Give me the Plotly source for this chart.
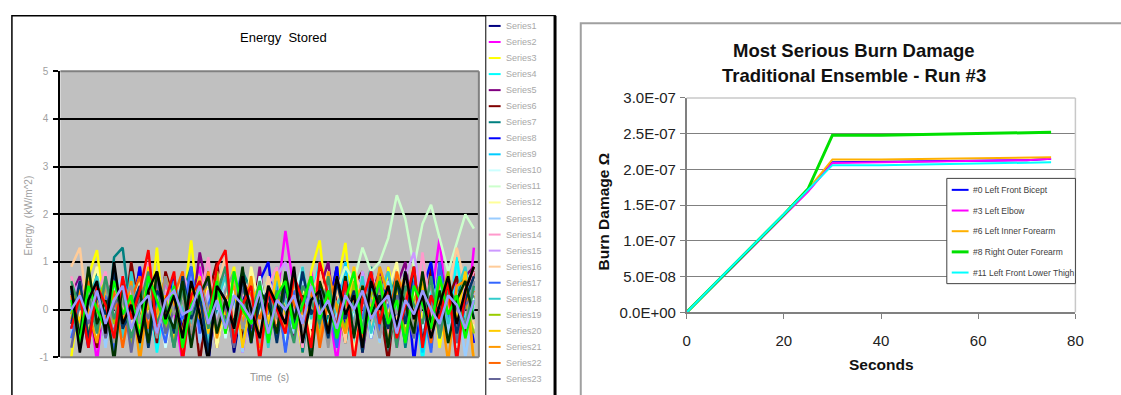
import plotly.graph_objects as go

W, H = 1121, 395
FONT = "Liberation Sans, Arial, sans-serif"

# ---------------- Energy Stored (left chart) ----------------
energy_time = list(range(48))

energy_01 = [0.4, -0.3, 0.6, -0.5, 0.2, -0.8, 0.5, 0.1, -0.6, 0.7, -0.2, 0.3,
             -0.7, 0.4, 0.0, -0.4, 0.8, -0.1, 0.5, -0.9, 0.2, 0.6, -0.3, 0.1,
             -0.5, 0.7, -0.2, 0.4, -0.8, 0.3, 0.0, 0.9, -0.4, 0.2, -0.6, 0.5,
             -0.1, 0.7, -0.7, 0.3, -0.3, 0.6, 0.0, -0.5, 0.4, -0.9, 0.2, 0.5]
energy_02 = [-0.2, -0.6, 0.3, -1.1, 0.5, 0.1, -0.4, 0.8, -0.7, 0.2, -0.3, 0.6,
             0.0, -1.1, 0.4, 0.9, -0.5, 0.1, -0.2, 0.7, -0.9, 0.3, 0.5, -0.4,
             0.2, 1.65, 0.4, -0.6, 0.8, -0.3, 0.1, -1.1, 0.5, 0.0, -0.5, 0.6,
             -0.2, 0.9, -0.8, 0.3, -0.4, 0.7, 0.2, 1.5, -0.3, 0.6, -0.6, 1.3]
energy_03 = [-1.0, 0.3, 0.7, 1.25, -0.2, 0.5, -0.6, 0.8, 0.1, -0.4, 1.3, -0.7,
             0.4, 0.0, 1.45, -0.3, 0.6, -0.8, 0.2, 0.9, -0.5, 0.3, -0.1, 0.7,
             -0.6, 0.4, 0.1, -0.9, 0.8, 1.45, -0.2, 0.5, 1.4, -0.4, 0.2, 0.7,
             -0.7, 0.9, 0.0, -0.5, 1.0, -0.3, 0.6, -0.8, 0.4, 0.1, -0.6, 0.3]
energy_04 = [0.1, -0.5, 0.6, -0.1, 0.4, -0.7, 0.2, 0.8, -0.3, 0.5, -0.9, 0.3,
             0.7, -0.4, 0.1, -0.6, 0.5, 0.9, -0.2, 0.3, -0.8, 0.6, 0.0, -0.5,
             0.4, -0.1, 0.8, -0.6, 0.2, 1.0, -0.3, 0.5, -0.7, 0.1, 0.6, -0.4,
             0.9, -0.9, 0.3, -0.2, 0.7, -1.1, 0.4, 0.2, -0.6, 1.1, -0.3, 0.5]
energy_05 = [0.3, 0.7, -0.4, 0.2, -0.7, 0.5, 0.0, -0.3, 0.9, -0.6, 0.4, 0.1,
             -0.5, 0.8, -0.2, 1.2, 0.3, -0.8, 0.5, -0.1, 0.6, -0.4, 0.9, -0.7,
             0.2, 0.0, -0.6, 0.7, -0.3, 0.4, 1.0, -0.5, 0.1, 0.6, -0.9, 0.3,
             0.8, -0.2, 0.5, 1.0, -0.4, 0.2, -0.8, 1.0, 0.0, -0.5, 0.7, 0.9]
energy_06 = [0.5, -0.2, 0.1, -0.8, 0.6, 0.3, -0.5, 1.0, -0.1, 0.4, -0.7, 0.8,
             0.2, -0.4, 0.6, -1.1, 0.3, 1.0, -0.3, 0.5, -0.6, 0.1, 0.7, -0.2,
             0.4, -0.8, 0.2, 0.6, -0.5, 0.9, -0.1, 0.3, -0.7, 0.5, 0.8, -0.4,
             0.1, -1.1, 0.6, -0.2, 0.4, -0.7, 0.9, -0.3, 0.2, 0.7, -0.5, 0.8]
energy_07 = [0.2, 0.5, -0.3, 0.8, -0.6, 1.1, 1.3, -0.2, 0.4, -0.5, 0.7, 0.1,
             -0.8, 0.3, 0.9, -0.4, 0.6, -0.1, 0.2, -0.7, 0.8, 0.4, -0.3, 0.6,
             -0.5, 0.1, 0.7, -0.9, 0.3, 0.5, -0.2, 0.8, -0.6, 0.4, 0.0, 0.9,
             -0.4, 0.2, 0.7, -0.8, 0.5, 0.1, -0.3, 0.6, -0.7, 0.3, 0.8, 0.2]
energy_08 = [-0.4, 0.3, -0.8, 0.6, 0.0, -0.5, 0.4, -0.2, 0.9, -0.7, 0.2, -0.3,
             0.7, -0.6, 0.5, 0.1, -1.1, 0.4, 0.8, -0.3, 0.2, -0.7, 0.6, 1.0,
             -0.4, 0.3, -0.2, 0.8, -0.8, 0.5, -0.1, 0.9, -0.5, 0.3, 0.7, -0.6,
             0.2, 0.5, -0.3, 0.8, -1.1, 0.4, 1.0, -0.4, 0.6, -0.2, 0.3, -0.7]
energy_09 = [0.0, -0.7, 0.4, 0.1, -0.3, 0.7, -0.5, 0.3, -0.9, 0.6, 0.2, -0.4,
             0.5, -0.1, 0.8, -0.6, 0.3, -0.2, 0.6, 0.0, -0.8, 0.5, 0.2, -0.5,
             0.9, -0.3, 0.4, -0.7, 0.1, -0.1, 0.7, -0.4, 1.0, -0.8, 0.3, 0.5,
             -0.2, 0.6, -0.6, 0.1, 0.8, -0.9, 0.2, -0.3, 0.5, -1.1, 0.7, 0.4]
energy_10 = [0.3, -0.2, 0.5, -0.6, 0.2, 0.6, -0.4, 0.1, 0.7, -0.3, 0.4, -0.8,
             0.2, 0.6, -0.5, 0.3, -0.1, 0.8, -0.6, 0.4, 0.1, -0.3, 0.7, -0.2,
             0.5, -0.7, 0.3, 0.9, -0.4, 0.2, 0.6, -0.5, 0.3, -0.2, 0.8, -0.6,
             0.4, 0.1, -0.7, 0.5, 0.2, -0.4, 0.6, -0.1, 0.3, -0.8, 0.5, 0.2]
energy_11 = [-0.3, 0.4, 0.1, -0.6, 0.5, -0.2, 0.3, -0.5, 0.6, 0.0, -0.4, 0.7,
             -0.1, 0.3, -0.7, 0.5, 0.2, -0.3, 0.6, -0.5, 0.1, 0.4, -0.2, 0.7,
             0.0, -0.6, 0.5, 0.2, -0.3, 0.8, -0.1, 0.4, 0.9, 0.6, 1.3, 0.8,
             1.0, 1.5, 2.4, 1.9, 0.9, 1.8, 2.2, 1.5, 0.8, 1.4, 2.0, 1.7]
energy_12 = [0.6, -0.1, 0.3, 0.9, -0.4, 0.2, -0.7, 0.5, 0.0, 0.7, -0.3, 0.4,
             -0.6, 0.8, 0.1, -0.2, 0.5, -0.8, 0.3, 0.6, -0.4, 0.9, 0.0, -0.5,
             0.3, 0.7, -0.2, 0.4, -0.6, 0.1, 0.8, -0.3, 0.5, -0.9, 0.2, 0.6,
             -0.1, 0.4, 1.0, -0.5, 0.3, 0.7, -0.2, 0.5, -0.7, 0.1, 0.6, -0.4]
energy_13 = [-0.5, 0.2, -0.1, 0.5, -0.8, 0.4, 0.7, -0.3, 0.1, -0.6, 0.6, 0.2,
             -0.4, 0.0, 0.8, -0.7, 0.3, -0.2, 0.5, 0.1, -0.9, 0.4, -0.3, 0.7,
             -0.1, 0.2, -0.5, 0.6, 0.3, -0.8, 0.5, -0.2, 0.7, 0.0, -0.4, 0.3,
             -0.7, 0.6, 0.1, -0.3, 0.9, -0.6, 0.2, 0.5, -0.5, 0.4, -1.0, 0.1]
energy_14 = [0.7, 0.1, -0.4, 0.3, 0.8, -0.2, 0.5, -0.6, 0.2, 1.0, -0.3, 0.4,
             -0.1, 0.6, -0.7, 0.2, 1.1, -0.4, 0.3, -0.2, 0.7, 0.0, -0.6, 0.5,
             0.9, -0.3, 0.2, -0.8, 0.6, 0.1, -0.4, 0.7, -0.1, 0.4, -0.7, 0.8,
             0.2, -0.5, 0.6, 0.0, -0.3, 1.2, -0.2, 0.5, 0.1, -0.6, 0.3, 0.8]
energy_15 = [0.2, 0.6, -0.2, 0.4, 0.0, 0.7, -0.3, 0.5, 0.1, -0.4, 0.6, 0.3,
             -0.1, 0.8, 0.2, -0.5, 0.4, 0.0, 0.9, -0.2, 0.3, 0.6, -0.4, 0.2,
             0.7, 1.0, -0.1, 0.5, 0.2, -0.3, 0.6, 0.0, 0.4, -0.6, 0.8, 0.1,
             0.5, -0.2, 0.3, 0.7, 1.2, 0.1, -0.3, 0.6, 0.2, -0.1, 0.5, 0.3]
energy_16 = [0.9, 1.3, -0.2, 0.4, -0.6, 0.7, 0.1, -0.4, 0.5, -0.1, 0.8, -0.7,
             0.3, 0.6, -0.3, 0.2, -0.8, 0.5, 1.1, -0.2, 0.4, 0.0, -0.5, 0.7,
             -0.3, 0.1, 0.6, -0.6, 0.3, 0.8, -0.1, 0.4, -0.7, 0.9, 0.2, -0.4,
             0.5, 0.0, -0.2, 0.6, -0.5, 0.3, 0.1, -0.6, 0.4, 1.3, 0.5, -0.3]
energy_17 = [-0.6, 0.1, 0.5, -0.3, 0.3, -0.9, 0.6, 0.2, -0.4, 0.7, 0.0, -0.7,
             0.4, -0.2, 0.9, -0.5, 0.1, 0.6, -0.3, 0.2, 0.8, -0.6, 0.3, -0.1,
             0.5, -0.9, 0.4, 0.0, 0.7, -0.4, 0.2, -0.8, 0.6, 0.3, -0.2, 0.8,
             -0.5, 0.1, 0.4, -0.7, 0.6, 0.2, -0.9, 1.0, -0.2, 0.3, -0.4, 0.6]
energy_18 = [0.4, -0.4, 0.2, 0.7, -0.1, 0.3, -0.6, 0.8, -0.2, 0.1, 0.5, -0.5,
             0.6, 0.0, -0.3, 0.4, -0.7, 0.2, 0.7, -0.4, 0.5, -0.1, 0.3, -0.8,
             0.6, 0.2, -0.4, 0.9, -0.2, 0.4, -0.6, 0.1, 0.5, -0.3, 0.7, -0.5,
             0.3, 0.8, -0.1, 0.2, -0.6, 0.5, 0.0, 0.7, -0.3, 0.4, 0.9, -0.2]
energy_19 = [-0.1, 0.5, -0.5, 0.2, 0.6, -0.3, 0.4, -0.8, 0.3, 0.0, 0.7, -0.4,
             0.2, -0.6, 0.5, 0.1, -0.2, 0.8, -0.5, 0.3, -0.1, 0.6, -0.7, 0.4,
             0.0, 0.5, -0.3, 0.2, 0.7, -0.6, 0.4, 0.1, -0.4, 0.6, -0.8, 0.3,
             0.7, -0.2, 0.5, -0.5, 0.2, 0.6, -0.3, 0.1, 0.8, -0.7, 0.2, -0.5]
energy_20 = [0.5, -0.3, 0.8, -0.1, 0.2, -0.6, 0.6, 0.0, -0.4, 0.9, -0.2, 0.3,
             -0.7, 0.4, 0.1, 0.7, -0.5, 0.3, -0.1, 0.6, -0.8, 0.2, 0.5, -0.3,
             0.8, -0.1, 0.3, -0.6, 0.5, 0.0, -0.4, 0.6, -0.2, 0.9, -0.5, 0.2,
             0.4, -0.7, 0.3, 0.7, -0.3, 0.5, 0.1, -0.5, 0.6, -0.2, 0.8, -1.1]
energy_21 = [-0.2, 0.4, 0.0, -0.7, 0.5, 0.2, -0.3, 0.6, -1.1, 0.3, -0.1, 0.7,
             0.1, -0.5, 0.4, -0.2, 0.8, -0.6, 0.2, 0.5, -0.3, 0.7, -0.8, 0.1,
             0.4, -0.4, 0.6, -0.1, 0.3, -0.7, 0.8, 0.0, -0.5, 0.2, 0.5, -0.2,
             0.9, 0.3, -0.6, 0.4, -0.1, 0.7, -0.4, 0.2, -1.1, 0.5, 0.6, -1.1]
energy_22 = [0.3, -0.5, 0.6, 0.1, -0.2, 0.4, -0.8, 0.2, 0.7, -0.4, 0.5, -0.1,
             0.3, 0.8, -0.6, 0.2, -0.3, 0.5, 0.0, -0.7, 0.6, 0.3, -0.2, 0.4,
             -0.5, 0.7, 0.1, -0.3, 0.5, -0.8, 0.2, 0.6, -0.1, 0.4, -0.6, 0.7,
             0.0, -0.4, 0.8, 0.1, -0.2, 0.3, -0.7, 0.6, 0.2, -0.5, 0.1, 0.4]
energy_23 = [-0.8, 0.2, -0.3, 0.5, -0.6, 0.1, 0.4, -0.9, 0.3, -0.2, 0.6, -0.5,
             0.0, 0.4, -0.7, 0.3, 0.6, -0.4, 0.1, -0.8, 0.5, -0.1, 0.3, -0.6,
             0.2, 0.6, -0.4, 0.1, -0.9, 0.4, 0.0, -0.3, 0.7, -0.5, 0.2, -0.1,
             0.5, -0.8, 0.3, 0.0, -0.6, 0.4, 0.2, -0.4, 0.6, -0.7, 0.1, 0.3]
energy_24 = [0.1, -0.4, 0.4, -0.2, 0.6, -0.7, 0.2, 0.5, -0.3, 0.3, -0.6, 0.7,
             -0.1, 0.2, -0.5, 0.6, 0.0, -0.3, 0.4, 0.8, -0.4, 0.2, -0.7, 0.5,
             -0.2, 0.3, 0.7, -0.5, 0.1, 0.4, -0.8, 0.6, 0.0, -0.3, 0.5, 0.2,
             -0.6, 0.4, -0.1, 0.7, -0.4, 0.1, 0.5, -0.6, 0.3, 0.0, -0.3, 0.6]
energy_25 = [-0.3, 0.6, -0.6, 0.3, -0.1, 0.8, -0.4, 0.0, 0.5, -0.8, 0.4, 0.1,
             -0.5, 0.7, -0.2, 0.3, -0.9, 0.5, 0.2, -0.4, 0.7, -0.6, 0.1, 0.4,
             -0.7, 0.5, -0.3, 0.8, -0.1, 0.2, -0.6, 0.6, -0.2, 0.4, -0.9, 0.7,
             0.1, -0.4, 0.6, -0.3, 0.9, -0.7, 0.3, -0.1, 0.5, -0.5, 0.2, 0.7]
energy_26 = [0.6, 0.0, 0.3, -0.5, 0.7, -0.2, 0.4, -0.6, 0.1, 0.8, -0.3, 0.2,
             -0.8, 0.5, -0.1, 0.6, -0.4, 0.3, 0.9, -0.6, 0.2, -0.2, 0.6, -0.5,
             0.4, 0.0, -0.7, 0.5, 0.2, -0.3, 0.7, -0.6, 0.3, 0.1, -0.4, 0.6,
             -0.2, 0.4, -0.8, 0.5, 0.1, -0.3, 0.7, -0.6, 0.4, 0.2, -0.4, 0.5]
energy_27 = [0.5, -0.6, 0.9, -0.3, 0.2, -1.1, 0.6, -0.2, 0.4, -0.7, 0.8, 0.0,
             -0.4, 0.6, -0.8, 0.3, 0.7, -0.5, 0.2, -0.3, 0.9, -0.7, 0.4, 0.1,
             -0.5, 0.8, -0.2, 0.3, -1.1, 0.6, 0.0, -0.4, 0.7, -0.6, 0.5, -0.1,
             0.3, -0.8, 0.6, 0.1, -0.5, 0.8, -0.3, 0.4, -0.7, 0.2, 0.6, -0.2]
energy_28 = [-0.4, 0.3, -0.8, 0.5, 0.1, -0.6, 0.7, -0.2, 0.4, 1.25, -0.5, 0.2,
             0.8, -1.1, 0.3, 0.6, -0.3, 0.9, 1.25, -0.7, 0.1, 0.5, -1.1, 0.4,
             0.0, -0.5, 0.7, 0.2, -0.8, 1.0, 0.3, -0.4, 0.6, -1.1, 0.2, 0.8,
             -0.3, 0.5, -0.6, 0.1, 0.9, -0.8, 0.3, -0.2, 0.6, -1.1, 0.4, 0.9]
energy_29 = [0.2, -0.7, 0.5, 0.0, -0.4, 0.6, -0.1, 0.3, -0.6, 0.7, 0.2, -0.3,
             0.5, -0.8, 0.1, 0.4, -0.2, 0.6, -0.5, 0.8, 0.0, -0.3, 0.5, -0.7,
             0.3, 0.6, -0.4, 0.1, 0.7, -0.2, 0.4, -0.6, 0.2, 0.8, -0.5, 0.0,
             0.6, -0.3, 0.2, -0.7, 0.5, 0.1, -0.4, 0.7, -0.1, 0.3, -0.6, 0.2]
energy_30 = [0.5, -0.9, 0.2, 0.6, -0.5, 1.0, -0.3, 0.1, -0.7, 0.4, 0.8, -0.2,
             0.3, -0.6, 0.6, -0.1, -1.1, 0.5, 0.2, -0.4, 0.7, 0.0, -0.6, 0.5,
             0.1, -0.3, 0.9, -0.7, 0.2, 0.4, -0.5, 0.7, -0.1, 0.3, -0.8, 0.6,
             0.0, 0.5, -0.4, 0.8, -0.2, 0.3, -0.6, 0.1, 0.7, -0.3, 0.4, 0.9]
energy_31 = [0.0, 0.3, -0.2, 0.4, -0.3, 0.2, 0.5, -0.4, 0.1, 0.3, -0.5, 0.2,
             0.4, -0.1, 0.0, 0.5, -0.3, 0.2, -0.4, 0.3, 0.1, -0.2, 0.4, -0.5,
             0.2, 0.0, 0.3, -0.3, 0.5, -0.1, 0.2, -0.4, 0.3, 0.0, 0.4, -0.2,
             0.1, 0.3, -0.5, 0.2, -0.1, 0.4, 0.0, -0.3, 0.3, 0.1, -0.4, 0.2]

energy_series = [energy_01, energy_02, energy_03, energy_04, energy_05, energy_06,
                 energy_07, energy_08, energy_09, energy_10, energy_11, energy_12,
                 energy_13, energy_14, energy_15, energy_16, energy_17, energy_18,
                 energy_19, energy_20, energy_21, energy_22, energy_23, energy_24,
                 energy_25, energy_26, energy_27, energy_28, energy_29, energy_30,
                 energy_31]
energy_colors = ["#000080", "#FF00FF", "#FFFF00", "#00FFFF", "#800080", "#800000",
                 "#008080", "#0000FF", "#00CCFF", "#CCFFFF", "#CCFFCC", "#FFFF99",
                 "#99CCFF", "#FF99CC", "#CC99FF", "#FFCC99", "#3366FF", "#33CCCC",
                 "#99CC00", "#FFCC00", "#FF9900", "#FF6600", "#666699", "#969696",
                 "#003366", "#339966", "#003300", "#FF0000", "#00FF00", "#000000",
                 "#9999FF"]
energy_names = ["Series%d" % (i + 1) for i in range(len(energy_series))]
energy_legend_count = 23
energy_ticks = [-1, 0, 1, 2, 3, 4, 5]

# ---------------- Burn damage (right chart) ----------------
burn_time = [0, 5, 10, 15, 20, 25, 30, 40, 50, 60, 70, 75]
burn_bicept = [0, 0.34e-7, 0.68e-7, 1.02e-7, 1.36e-7, 1.70e-7, 2.10e-7, 2.11e-7, 2.12e-7, 2.12e-7, 2.13e-7, 2.15e-7]
burn_elbow = [0, 0.33e-7, 0.67e-7, 1.01e-7, 1.35e-7, 1.69e-7, 2.09e-7, 2.10e-7, 2.11e-7, 2.12e-7, 2.13e-7, 2.15e-7]
burn_inner_forearm = [0, 0.34e-7, 0.68e-7, 1.02e-7, 1.36e-7, 1.72e-7, 2.14e-7, 2.14e-7, 2.15e-7, 2.16e-7, 2.17e-7, 2.17e-7]
burn_outer_forearm = [0, 0.34e-7, 0.68e-7, 1.02e-7, 1.37e-7, 1.73e-7, 2.48e-7, 2.48e-7, 2.49e-7, 2.50e-7, 2.51e-7, 2.52e-7]
burn_lower_thigh = [0, 0.35e-7, 0.69e-7, 1.03e-7, 1.37e-7, 1.71e-7, 2.06e-7, 2.06e-7, 2.07e-7, 2.08e-7, 2.09e-7, 2.10e-7]

burn_series = [burn_bicept, burn_elbow, burn_inner_forearm, burn_outer_forearm, burn_lower_thigh]
burn_names = ["#0 Left Front Bicept", "#3 Left Elbow", "#6 Left Inner Forearm",
              "#8 Right Outer Forearm", "#11 Left Front Lower Thigh"]
burn_colors = ["#0000FF", "#FF00FF", "#FFB000", "#00E000", "#00FFFF"]
burn_widths = [2, 2, 2, 3, 2]
burn_yticks = [0, 0.5e-7, 1.0e-7, 1.5e-7, 2.0e-7, 2.5e-7, 3.0e-7]
burn_xticks = [0, 20, 40, 60, 80]


def px(x):
    return x / W


def py(y):
    return 1 - y / H


fig = go.Figure()

for vals, color, name in zip(energy_series, energy_colors, energy_names):
    fig.add_trace(go.Scatter(x=energy_time, y=vals, mode="lines", name=name,
                             line=dict(color=color, width=2.5),
                             xaxis="x", yaxis="y", showlegend=False))

for vals, color, name, w in zip(burn_series, burn_colors, burn_names, burn_widths):
    fig.add_trace(go.Scatter(x=burn_time, y=vals, mode="lines", name=name,
                             line=dict(color=color, width=w),
                             xaxis="x2", yaxis="y2", showlegend=False))

shapes = []
annotations = []

# outer frames
shapes.append(dict(type="rect", xref="paper", yref="paper", x0=px(8), x1=px(557),
                   y0=py(440), y1=py(7), line=dict(color="#000000", width=1.5),
                   fillcolor="rgba(0,0,0,0)", layer="above"))
shapes.append(dict(type="rect", xref="paper", yref="paper", x0=px(487), x1=px(557),
                   y0=py(440), y1=py(7), line=dict(color="#000000", width=1),
                   fillcolor="white", layer="above"))
shapes.append(dict(type="line", xref="paper", yref="paper", x0=px(557), x1=px(557),
                   y0=py(440), y1=py(7), line=dict(color="#000000", width=3), layer="above"))
shapes.append(dict(type="rect", xref="paper", yref="paper", x0=px(583), x1=px(1160),
                   y0=py(440), y1=py(15), line=dict(color="#A0A0A0", width=2),
                   fillcolor="rgba(0,0,0,0)", layer="above"))

# left plot area: grey background, grey border on top/right/bottom
shapes.append(dict(type="rect", xref="x domain", yref="y domain", x0=0, x1=1, y0=0, y1=1,
                   fillcolor="#C0C0C0", line=dict(width=0), layer="below"))
for (x0, y0, x1, y1) in [(0, 1, 1, 1), (1, 0, 1, 1), (0, 0, 1, 0)]:
    shapes.append(dict(type="line", xref="x domain", yref="y domain", x0=x0, y0=y0,
                       x1=x1, y1=y1, line=dict(color="#808080", width=2), layer="above"))

# right plot area: light border on top and right
for (x0, y0, x1, y1) in [(0, 1, 1, 1), (1, 0, 1, 1)]:
    shapes.append(dict(type="line", xref="x2 domain", yref="y2 domain", x0=x0, y0=y0,
                       x1=x1, y1=y1, line=dict(color="#C8C8C8", width=1.5), layer="above"))

# left legend entries
for i in range(energy_legend_count):
    yy = 17.7 + 16.77 * i
    shapes.append(dict(type="line", xref="paper", yref="paper", x0=px(490), x1=px(502),
                       y0=py(yy), y1=py(yy), line=dict(color=energy_colors[i], width=2),
                       layer="above"))
    annotations.append(dict(x=px(505), y=py(yy), xref="paper", yref="paper",
                            text=energy_names[i], showarrow=False, xanchor="left",
                            yanchor="middle", font=dict(family=FONT, size=9, color="#A8A8A8")))

# right legend box and entries
shapes.append(dict(type="rect", xref="paper", yref="paper", x0=px(953), x1=px(1083),
                   y0=py(287), y1=py(177), line=dict(color="#404040", width=1),
                   fillcolor="white", layer="above"))
for i, name in enumerate(burn_names):
    yy = 189 + 21.6 * i
    shapes.append(dict(type="line", xref="paper", yref="paper", x0=px(958), x1=px(975),
                       y0=py(yy), y1=py(yy), line=dict(color=burn_colors[i], width=burn_widths[i]),
                       layer="above"))
    annotations.append(dict(x=px(977), y=py(yy), xref="paper", yref="paper", text=name,
                            showarrow=False, xanchor="left", yanchor="middle",
                            font=dict(family=FONT, size=8.5, color="#404040")))

# titles and axis labels
annotations += [
    dict(x=px(283), y=py(30), text="Energy  Stored", font=dict(family=FONT, size=13, color="#000000")),
    dict(x=px(25), y=py(216), text="Energy  (kW/m^2)", textangle=-90,
         font=dict(family=FONT, size=10, color="#A0A0A0")),
    dict(x=px(268), y=py(385), text="Time  (s)", font=dict(family=FONT, size=10, color="#909090")),
    dict(x=px(859), y=py(43), text="<b>Most Serious Burn Damage</b>",
         font=dict(family=FONT, size=18.5, color="#111111")),
    dict(x=px(859), y=py(70), text="<b>Traditional Ensemble - Run #3</b>",
         font=dict(family=FONT, size=18.5, color="#111111")),
    dict(x=px(606), y=py(212), text="<b>Burn Damage Ω</b>", textangle=-90,
         font=dict(family=FONT, size=15.5, color="#111111")),
    dict(x=px(887), y=py(372), text="<b>Seconds</b>", font=dict(family=FONT, size=15.5, color="#111111")),
]
for a in annotations[-7:]:
    a.update(xref="paper", yref="paper", showarrow=False, xanchor="center", yanchor="middle")

fig.update_layout(
    width=W, height=H, margin=dict(l=0, r=0, t=0, b=0),
    paper_bgcolor="white", plot_bgcolor="white",
    showlegend=False, shapes=shapes, annotations=annotations,
    font=dict(family=FONT),
    xaxis=dict(domain=[px(57), px(480)], range=[-1.27, 47.58], anchor="y",
               showticklabels=False, showgrid=False, zeroline=False, showline=False, ticks=""),
    yaxis=dict(domain=[py(364), py(65)], range=[-1, 5], anchor="x",
               tickvals=energy_ticks, ticktext=[str(v) for v in energy_ticks],
               tickfont=dict(family=FONT, size=10, color="#A0A0A0"),
               ticks="outside", ticklen=5, tickwidth=2, tickcolor="#000000",
               ticklabelstandoff=3,
               showline=True, linecolor="#000000", linewidth=2,
               showgrid=True, gridcolor="#000000", gridwidth=2,
               zeroline=True, zerolinecolor="#000000", zerolinewidth=2),
    xaxis2=dict(domain=[px(690), px(1083)], range=[0, 80], anchor="y2",
                tickvals=burn_xticks, ticktext=[str(v) for v in burn_xticks],
                tickfont=dict(family=FONT, size=15, color="#222222"),
                ticks="outside", ticklen=5, tickcolor="#808080",
                ticklabelstandoff=9,
                showline=True, linecolor="#808080", linewidth=1.5,
                showgrid=False, zeroline=False),
    yaxis2=dict(domain=[py(317), py(93)], range=[0, 3e-7], anchor="x2",
                tickvals=burn_yticks, ticktext=["%.1E" % v for v in burn_yticks],
                tickfont=dict(family=FONT, size=15, color="#222222"),
                ticks="outside", ticklen=5, tickcolor="#808080",
                ticklabelstandoff=1,
                showline=True, linecolor="#808080", linewidth=1.5,
                showgrid=True, gridcolor="#808080", gridwidth=1, zeroline=False),
)

fig.write_html("out.html", config={"displayModeBar": False})
